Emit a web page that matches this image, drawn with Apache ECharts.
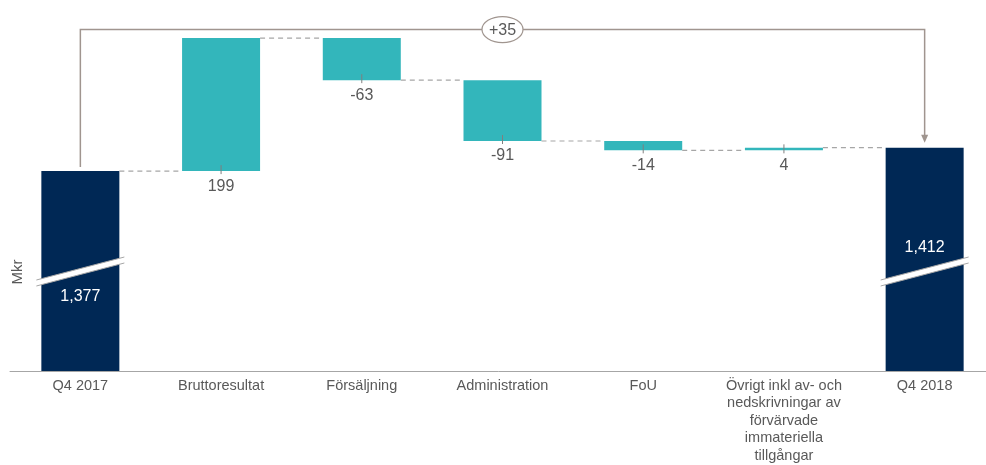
<!DOCTYPE html>
<html><head><meta charset="utf-8">
<script src="https://cdn.jsdelivr.net/npm/echarts@6/dist/echarts.min.js"></script>
<style>html,body{margin:0;padding:0;background:#fff}#c{width:986px;height:465px}</style>
</head><body><div id="c"></div>
<script>
const categories = ['Q4 2017','Bruttoresultat','Försäljning','Administration','FoU','Övrigt inkl av- och\nnedskrivningar av\nförvärvade\nimmateriella\ntillgångar','Q4 2018'];
const startValue = 1377;
const changes = [199, -63, -91, -14, 4];
const endValue = 1412;
const startLabel = '1,377';
const endLabel = '1,412';
const axisMin = 1078;
const axisMax = 1600;

const FONT = '"Liberation Sans", Arial, sans-serif';
const TEXT = '#595959';
const TEAL = '#33B6BB';
const NAVY = '#002855';
const BRACKET = '#A0958F';
const BW = 78;

// running totals
const levels = [startValue];
const lows = [0], highs = [startValue];
let run = startValue;
changes.forEach(d => { const a = run, b = run + d; lows.push(Math.min(a,b)); highs.push(Math.max(a,b)); run = b; levels.push(run); });
levels.push(endValue); lows.push(0); highs.push(endValue);
const isTotal = categories.map((c,i)=> i===0 || i===categories.length-1);
const baseData = lows;
const valData = highs.map((h,i)=>({value: h - lows[i], itemStyle:{color: isTotal[i] ? NAVY : TEAL}}));

function renderDeco(params, api) {
  const i = api.value(0);
  const n = categories.length;
  const cx = api.coord([i, axisMin])[0];
  const baseY = api.coord([i, axisMin])[1];
  const ch = [];
  if (i < n - 1) {
    const y = api.coord([i, levels[i]])[1];
    const nx = api.coord([i + 1, axisMin])[0];
    ch.push({type:'line', shape:{x1: cx + BW/2, y1: y, x2: nx - BW/2, y2: y},
      style:{stroke:'#A6A6A6', lineWidth:1.2, lineDash:[5,4]}});
  }
  if (!isTotal[i]) {
    const y = api.coord([i, lows[i]])[1];
    ch.push({type:'line', shape:{x1:cx, y1:y-6, x2:cx, y2:y+3}, style:{stroke:'#7F7F7F', lineWidth:1}});
    ch.push({type:'text', x:cx, y:y+7, style:{text:String(changes[i-1]), fill:TEXT, font:'16px '+FONT, textAlign:'center', textVerticalAlign:'top'}});
  } else {
    const c = baseY - 99.5;
    const L = cx - 44, R = cx + 44, h = 11.5, t = 3;
    ch.push({type:'polygon', shape:{points:[[L,c+h-t],[R,c-h-t],[R,c-h+t],[L,c+h+t]]}, style:{fill:'#fff', stroke:null}});
    ch.push({type:'line', shape:{x1:L,y1:c+h-t,x2:R,y2:c-h-t}, style:{stroke:'#A6A6A6', lineWidth:1}});
    ch.push({type:'line', shape:{x1:L,y1:c+h+t,x2:R,y2:c-h+t}, style:{stroke:'#A6A6A6', lineWidth:1}});
    const first = i === 0;
    ch.push({type:'text', x:cx, y: first ? c + 25.5 : c - 23.5, style:{text: first ? startLabel : endLabel, fill:'#fff', font:'16px '+FONT, textAlign:'center', textVerticalAlign:'middle'}});
  }
  return {type:'group', children: ch};
}

function renderBracket(params, api) {
  const n = categories.length;
  const x0 = api.coord([0, startValue])[0], y0 = api.coord([0, startValue])[1] - 4;
  const x1 = api.coord([n-1, endValue])[0], y1 = api.coord([n-1, endValue])[1] - 5;
  const top = api.coord([0, Math.max.apply(null, levels)])[1] - 8.5;
  const mid = (x0 + x1) / 2;
  const diff = endValue - startValue;
  return {type:'group', children:[
    {type:'polyline', shape:{points:[[x0,y0],[x0,top],[x1,top],[x1,y1-7]]}, style:{stroke:BRACKET, lineWidth:1.5, fill:null}},
    {type:'polygon', shape:{points:[[x1-3.5,y1-8],[x1+3.5,y1-8],[x1,y1]]}, style:{fill:BRACKET}},
    {type:'ellipse', shape:{cx:mid, cy:top, rx:20.5, ry:13}, style:{fill:'#fff', stroke:BRACKET, lineWidth:1.2}},
    {type:'text', x:mid, y:top+1, style:{text:(diff>0?'+':'')+diff, fill:TEXT, font:'16px '+FONT, textAlign:'center', textVerticalAlign:'middle'}}
  ]};
}

const chart = echarts.init(document.getElementById('c'), null, {renderer:'canvas'});
chart.setOption({
  animation:false,
  grid:{left:10, top:22, right:-9, bottom:94, containLabel:false, outerBoundsMode:'none'},
  xAxis:{type:'category', data:categories,
    axisLine:{lineStyle:{color:'#A6A6A6', width:1}}, axisTick:{show:false},
    axisLabel:{color:TEXT, fontSize:14.5, lineHeight:17.5, margin:6, fontFamily:FONT, interval:0}},
  yAxis:{type:'value', min:axisMin, max:axisMax, show:false},
  graphic:[{type:'text', x:18, y:272, rotation:Math.PI/2, style:{text:'Mkr', fill:TEXT, font:'15px '+FONT, textAlign:'center', textVerticalAlign:'middle'}}],
  series:[
    {type:'bar', stack:'w', data:baseData, barWidth:BW, itemStyle:{color:'transparent'}, silent:true},
    {type:'bar', stack:'w', data:valData, barWidth:BW, silent:true},
    {type:'custom', renderItem:renderDeco, data:categories.map((c,i)=>[i, axisMin]), encode:{x:0,y:1}, z:5, silent:true},
    {type:'custom', renderItem:renderBracket, data:[[0, axisMin]], encode:{x:0,y:1}, z:6, silent:true}
  ]
});
</script></body></html>
